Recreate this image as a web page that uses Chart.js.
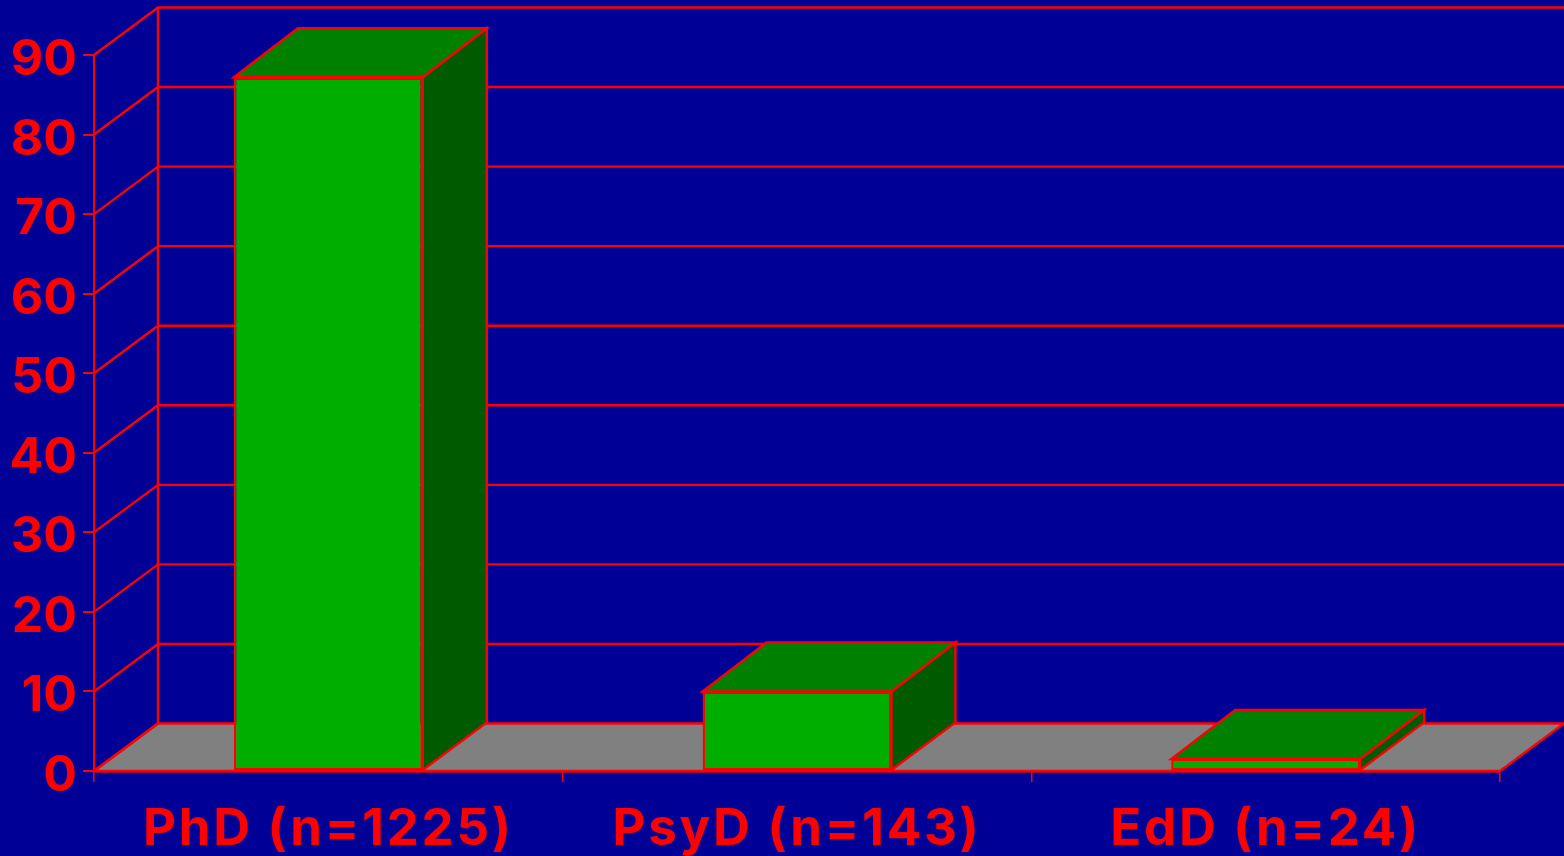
<!DOCTYPE html>
<html>
<head>
<meta charset="utf-8">
<title>Degree chart</title>
<script src="https://cdn.jsdelivr.net/npm/chart.js@4/dist/chart.umd.min.js"></script>
<style>
  html, body { margin: 0; padding: 0; background: #000096; overflow: hidden; }
  canvas { display: block; }
</style>
</head>
<body>
<canvas id="chart" width="1564" height="856"></canvas>
<script>
const categories = ["PhD (n=1225)", "PsyD (n=143)", "EdD (n=24)"];
const values = [87.2, 10, 1.5];
const yMax = 90;
const yStep = 10;

const RED = "#ff0000";
const DEPTH_X = 64;
const DEPTH_Y = 47.5;
const BAR_TOP_RISE = 49;

function poly(ctx, pts, fill) {
    ctx.beginPath();
    pts.forEach((p, i) => i ? ctx.lineTo(p[0], p[1]) : ctx.moveTo(p[0], p[1]));
    ctx.closePath();
    if (fill) {
        ctx.fillStyle = fill;
        ctx.fill();
    }
    ctx.stroke();
}

// back wall, floor and the sides of the bars, all behind the front faces
const box3d = {
    id: "box3d",
    beforeDatasetsDraw(chart) {
        const ctx = chart.ctx;
        const x = chart.scales.x;
        const y = chart.scales.y;
        const left = x.left, right = x.right;
        const base = y.getPixelForValue(0);

        ctx.save();
        ctx.strokeStyle = RED;
        ctx.lineWidth = 2.4;

        poly(ctx, [[left, base], [right, base], [right + DEPTH_X, base - DEPTH_Y], [left + DEPTH_X, base - DEPTH_Y]], "#808080");

        y.ticks.forEach(t => {
            const py = y.getPixelForValue(t.value);
            ctx.beginPath();
            ctx.moveTo(left, py);
            ctx.lineTo(left + DEPTH_X, py - DEPTH_Y);
            if (t.value > 0) ctx.lineTo(right + DEPTH_X, py - DEPTH_Y);
            ctx.stroke();
        });

        ctx.beginPath();
        ctx.moveTo(left + DEPTH_X, y.getPixelForValue(yMax) - DEPTH_Y);
        ctx.lineTo(left + DEPTH_X, base - DEPTH_Y);
        ctx.stroke();

        chart.getDatasetMeta(0).data.forEach(bar => {
            const l = bar.x - bar.width / 2;
            const r = bar.x + bar.width / 2;
            poly(ctx, [[r, bar.base], [r + DEPTH_X, bar.base - DEPTH_Y], [r + DEPTH_X, bar.y - BAR_TOP_RISE], [r, bar.y]], "#005a00");
            poly(ctx, [[l, bar.y], [r, bar.y], [r + DEPTH_X, bar.y - BAR_TOP_RISE], [l + DEPTH_X, bar.y - BAR_TOP_RISE]], "#008000");
        });
        ctx.restore();
    },
    // x labels have z 1, so they are drawn after this and get the wider spacing
    afterDatasetsDraw(chart) {
        chart.ctx.letterSpacing = "2.7px";
    }
};

new Chart(document.getElementById("chart"), {
    type: "bar",
    plugins: [box3d],
    data: {
        labels: categories,
        datasets: [{
            data: values,
            backgroundColor: "#00ae00",
            borderColor: RED,
            borderWidth: 2.4,
            borderSkipped: false,
            barPercentage: 0.403,
            categoryPercentage: 1
        }]
    },
    options: {
        responsive: false,
        animation: false,
        layout: { padding: { top: 55, right: 64, left: 0, bottom: 0 } },
        plugins: { legend: { display: false }, title: { display: false }, tooltip: { enabled: false } },
        scales: {
            x: {
                afterFit(scale) { scale.height = 85; },
                grid: { drawOnChartArea: false, color: RED, lineWidth: 1.5, tickLength: 11 },
                border: { color: RED, width: 2.4 },
                ticks: {
                    z: 1,
                    color: RED,
                    padding: 17,
                    maxRotation: 0,
                    autoSkip: false,
                    font: { family: "Inter", weight: "bold", size: 51 }
                }
            },
            y: {
                min: 0,
                max: yMax,
                afterFit(scale) { scale.width = 94; },
                grid: { drawOnChartArea: false, color: RED, lineWidth: 2, tickLength: 11 },
                border: { color: RED, width: 2 },
                ticks: {
                    color: RED,
                    stepSize: yStep,
                    padding: 6,
                    labelOffset: 5,
                    font: { family: "Inter", weight: "bold", size: 50 }
                }
            }
        }
    }
});
</script>
</body>
</html>
